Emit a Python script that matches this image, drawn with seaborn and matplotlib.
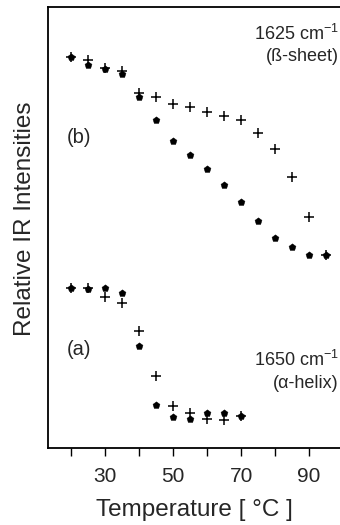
import numpy as np
import pandas as pd
import matplotlib
matplotlib.use("Agg")
import matplotlib.pyplot as plt
import seaborn as sns

temps_b = [20, 25, 30, 35, 40, 45, 50, 55, 60, 65, 70, 75, 80, 85, 90, 95]
b_dots = [0.887, 0.868, 0.859, 0.848, 0.796, 0.744, 0.696, 0.664, 0.633, 0.596, 0.558, 0.515, 0.476, 0.456, 0.438, 0.438]
b_plus = [0.887, 0.880, 0.862, 0.855, 0.805, 0.796, 0.780, 0.773, 0.762, 0.753, 0.744, 0.714, 0.678, 0.615, 0.524, 0.438]
temps_a = [20, 25, 30, 35, 40, 45, 50, 55, 60, 65, 70]
a_dots = [0.363, 0.361, 0.363, 0.351, 0.231, 0.098, 0.070, 0.066, 0.079, 0.079, 0.073]
a_plus = [0.363, 0.363, 0.342, 0.329, 0.265, 0.163, 0.095, 0.079, 0.066, 0.063, 0.073]
xticks = [20, 30, 40, 50, 60, 70, 80, 90]
xticklabels = ["", "30", "", "50", "", "70", "", "90"]

sns.set_style("white")
plt.rcParams['font.family'] = ['Liberation Sans', 'DejaVu Sans']

fig = plt.figure(figsize=(3.4, 5.25), dpi=100)
ax = fig.add_axes([48/340, 1-448/525, 1-48/340, (448-7)/525])

dots = pd.DataFrame({"T": temps_b + temps_a, "I": b_dots + a_dots})
plus = pd.DataFrame({"T": temps_b + temps_a, "I": b_plus + a_plus})
sns.scatterplot(data=dots, x="T", y="I", ax=ax, marker="p", s=28, color="black", edgecolor="black", linewidth=0.3, zorder=3)
sns.scatterplot(data=plus, x="T", y="I", ax=ax, marker="+", s=55, color="black", linewidth=1.1, zorder=4)

ax.set_xlim(13.2, 99.1)
ax.set_ylim(0, 1)
ax.set_xticks(xticks)
ax.set_xticklabels(xticklabels, fontsize=15)
ax.set_yticks([])
ax.tick_params(axis='x', direction='out', length=6, width=1, color='black', bottom=True, pad=8)
for s in ['left', 'bottom', 'top']:
    ax.spines[s].set_color('black')
    ax.spines[s].set_linewidth(1.3)
ax.spines['right'].set_visible(False)
ax.set_xlabel("Temperature [ °C ]", fontsize=17.5, labelpad=9)
ax.set_ylabel("Relative IR Intensities", fontsize=17.5)
ax.yaxis.set_label_coords(-0.042, 0.52)

ax.text(0.995, 0.939, "1625 cm$^{\\mathregular{-1}}$", transform=ax.transAxes, ha='right', va='center', fontsize=13)
ax.text(0.995, 0.887, "(ß-sheet)", transform=ax.transAxes, ha='right', va='center', fontsize=13)
ax.text(0.065, 0.703, "(b)", transform=ax.transAxes, ha='left', va='center', fontsize=14.5)
ax.text(0.065, 0.224, "(a)", transform=ax.transAxes, ha='left', va='center', fontsize=14.5)
ax.text(0.995, 0.2, "1650 cm$^{\\mathregular{-1}}$", transform=ax.transAxes, ha='right', va='center', fontsize=13)
ax.text(0.995, 0.147, "(α-helix)", transform=ax.transAxes, ha='right', va='center', fontsize=13)

fig.savefig("out.png", dpi=100)
